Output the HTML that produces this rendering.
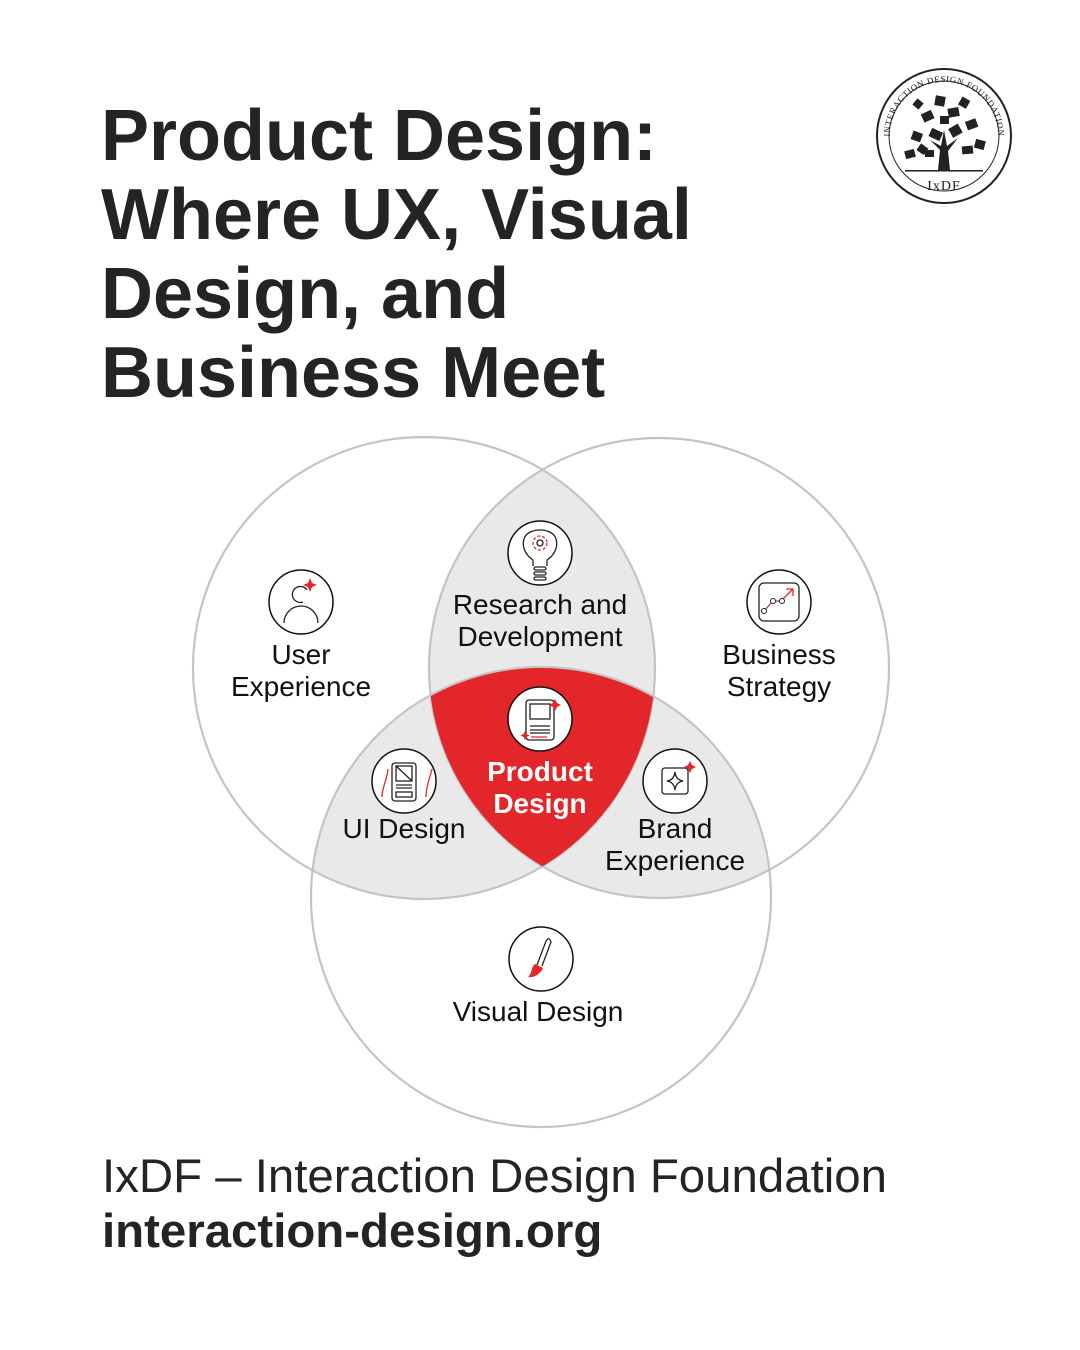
<!DOCTYPE html>
<html><head><meta charset="utf-8"><style>
html,body{margin:0;padding:0;background:#fff;}
body{width:1080px;height:1350px;position:relative;overflow:hidden;font-family:"Liberation Sans",sans-serif;color:#222;}
h1{position:absolute;left:101px;top:97px;margin:0;font-size:72px;line-height:79px;font-weight:bold;color:#242424;}
.ft{position:absolute;left:102px;font-size:47.4px;color:#242424;}
svg{position:absolute;left:0;top:0;}
</style></head><body>
<h1>Product Design:<br>Where UX, Visual<br>Design, and<br>Business Meet</h1>
<div class="ft" style="top:1149px">IxDF – Interaction Design Foundation</div>
<div class="ft" style="top:1204px;font-weight:bold">interaction-design.org</div>
<svg width="1080" height="1350" viewBox="0 0 1080 1350">
<defs>
<clipPath id="cA"><circle cx="424" cy="668" r="231"/></clipPath>
<clipPath id="cB"><circle cx="659" cy="668" r="230"/></clipPath>
<clipPath id="cC"><circle cx="541" cy="897" r="230"/></clipPath>
</defs>
<g clip-path="url(#cA)"><circle cx="659" cy="668" r="230" fill="#e9e9e9"/><circle cx="541" cy="897" r="230" fill="#e9e9e9"/></g>
<g clip-path="url(#cB)"><circle cx="541" cy="897" r="230" fill="#e9e9e9"/></g>
<g clip-path="url(#cA)"><g clip-path="url(#cB)"><circle cx="541" cy="897" r="230" fill="#e3262a"/></g></g>
<g fill="none" stroke="#c4c4c4" stroke-width="2.2">
<circle cx="424" cy="668" r="231"/><circle cx="659" cy="668" r="230"/><circle cx="541" cy="897" r="230"/>
</g>
<g clip-path="url(#cA)"><g clip-path="url(#cB)"><circle cx="541" cy="897" r="229" fill="#e3262a"/></g></g>
<g fill="#fff" stroke="#111" stroke-width="1.5">
<circle cx="301" cy="602" r="32"/><circle cx="540" cy="553" r="32"/><circle cx="779" cy="602" r="32"/>
<circle cx="540" cy="719" r="32"/><circle cx="404" cy="781" r="32"/><circle cx="675" cy="781" r="32"/>
<circle cx="541" cy="959" r="32"/>
</g>
<g fill="none" stroke="#222" stroke-width="1.3">
<path d="M307 590 A8 8 0 1 0 303 602"/><path d="M284 623 A17 17 0 0 1 318 623"/>
<path d="M533 566 L533 560 C524 554 522 545 524 539 C527 527 553 527 556 539 C558 545 556 554 547 560 L547 566"/>
<rect x="534" y="567" width="12" height="3" rx="1.5"/><rect x="534" y="572" width="12" height="3" rx="1.5"/><rect x="534" y="577" width="12" height="3" rx="1.5"/>
<circle cx="540" cy="543" r="3"/>
<rect x="759" y="583" width="40" height="38" rx="5"/>
<rect x="526" y="700" width="28" height="40" rx="3"/><rect x="530" y="704" width="20" height="15"/>
<path d="M530 730h20M530 733h20M530 726h20"/>
<rect x="392" y="763" width="24" height="38" rx="3"/><rect x="396" y="766" width="16" height="15"/><path d="M396 766l16 15M396 785h16M396 788h16"/><rect x="396" y="792" width="16" height="5"/>
<rect x="662" y="768" width="26" height="26" rx="3"/><path d="M675 772 Q676 780 683 781 Q676 782 675 790 Q674 782 667 781 Q674 780 675 772Z"/>
<path d="M537 965 L546 941 Q549 936 551 942 L542 966"/>
</g>
<g fill="none" stroke="#e3262a" stroke-width="1.3">
<circle cx="540" cy="543" r="7" stroke-dasharray="3 2"/>
<path d="M764 611l9-10 8 0 12-12M786 589h7v7"/>
<path d="M382 797c0-10 6-20 6-28M426 797c0-10 4-20 6-28M531 737h16"/>
</g>
<g fill="#e3262a">
<path d="M310 578l2 5 5 2-5 2-2 5-2-5-5-2 5-2z"/><path d="M555 699l2 4 4 2-4 2-2 4-2-4-4-2 4-2z"/><path d="M525 731l1.5 3 3 1.5-3 1.5-1.5 3-1.5-3-3-1.5 3-1.5z"/>
<path d="M690 761l2 4 4 2-4 2-2 4-2-4-4-2 4-2z"/><path d="M535 964 L543 968 C540 975 533 978 528 977 C532 974 531 967 535 964Z"/>
</g>
<g><circle cx="764" cy="611" r="2.5" fill="#fff" stroke="#222"/><circle cx="773" cy="601" r="2.5" fill="#fff" stroke="#222"/><circle cx="782" cy="601" r="2.5" fill="#fff" stroke="#222"/></g>
<g font-family="Liberation Sans, sans-serif" font-size="28" fill="#111" text-anchor="middle">
<text x="301" y="664">User</text><text x="301" y="696">Experience</text>
<text x="540" y="614">Research and</text><text x="540" y="646">Development</text>
<text x="779" y="664">Business</text><text x="779" y="696">Strategy</text>
<text x="404" y="838">UI Design</text>
<text x="675" y="838">Brand</text><text x="675" y="870">Experience</text>
<text x="538" y="1021">Visual Design</text>
<text x="540" y="781" fill="#fff" font-weight="bold">Product</text><text x="540" y="813" fill="#fff" font-weight="bold">Design</text>
</g>
<g>
<circle cx="944" cy="136" r="67" fill="#fff" stroke="#222" stroke-width="2"/>
<circle cx="944" cy="136" r="55" fill="none" stroke="#222" stroke-width="1"/>
<path id="arc" d="M890 136 A54 54 0 0 1 998 136" fill="none"/>
<text font-family="Liberation Serif, serif" font-size="9" fill="#222" letter-spacing="0.5"><textPath href="#arc" startOffset="50%" text-anchor="middle">INTERACTION DESIGN FOUNDATION</textPath></text>
<g fill="#222">
<rect x="905" y="150" width="10" height="8" transform="rotate(-15 910 154)"/><rect x="912" y="132" width="10" height="9" transform="rotate(20 917 136)"/><rect x="922" y="112" width="11" height="9" transform="rotate(-25 927 116)"/><rect x="935" y="96" width="10" height="10" transform="rotate(10 940 101)"/><rect x="948" y="108" width="11" height="9" transform="rotate(-10 953 112)"/><rect x="960" y="98" width="9" height="9" transform="rotate(30 964 102)"/><rect x="966" y="120" width="11" height="9" transform="rotate(-20 971 124)"/><rect x="975" y="140" width="10" height="9" transform="rotate(15 980 144)"/><rect x="930" y="130" width="12" height="9" transform="rotate(25 936 134)"/><rect x="950" y="126" width="11" height="10" transform="rotate(-30 955 131)"/><rect x="940" y="116" width="9" height="8"/><rect x="918" y="145" width="9" height="8" transform="rotate(35 922 149)"/><rect x="962" y="146" width="11" height="8" transform="rotate(-5 967 150)"/><rect x="914" y="100" width="8" height="8" transform="rotate(40 918 104)"/><rect x="925" y="150" width="9" height="7"/>
<path d="M938 170 L940 150 L930 140 L941 146 L944 130 L947 146 L958 138 L948 151 L950 170Z"/>
<rect x="905" y="170" width="78" height="1.5"/>
</g>
<text x="944" y="190" font-family="Liberation Serif, serif" font-size="14" fill="#222" text-anchor="middle" letter-spacing="1">IxDF</text>
</g>
</svg>
</body></html>
